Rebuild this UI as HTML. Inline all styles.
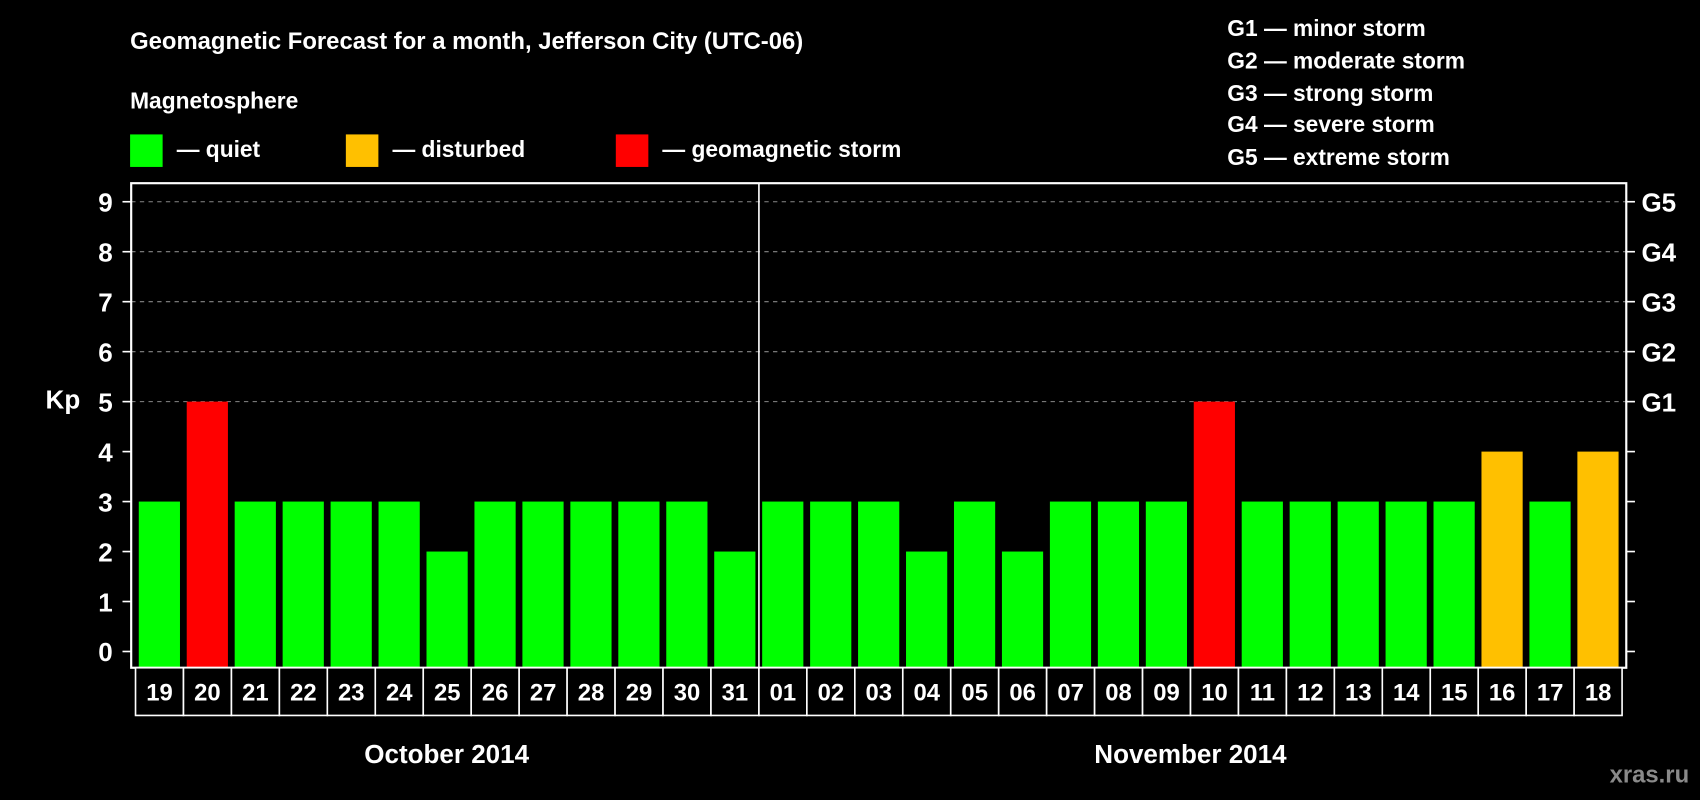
<!DOCTYPE html>
<html><head><meta charset="utf-8"><style>
html,body{margin:0;padding:0;background:#000;width:1700px;height:800px;overflow:hidden}
svg{display:block}
text{font-family:"Liberation Sans",Arial,sans-serif;font-weight:bold;fill:#fff}
</style></head><body>
<svg id="chart" width="1700" height="800" viewBox="0 0 1568 738" preserveAspectRatio="none" xmlns="http://www.w3.org/2000/svg">
<rect x="0" y="0" width="1568" height="738" fill="#000"/>
<text x="120" y="45" font-size="22">Geomagnetic Forecast for a month, Jefferson City (UTC-06)</text>
<text x="120" y="100" font-size="21">Magnetosphere</text>
<rect x="120" y="124" width="30" height="30" fill="#00ff00"/>
<text x="163" y="145" font-size="21">— quiet</text>
<rect x="319" y="124" width="30" height="30" fill="#ffc000"/>
<text x="362" y="145" font-size="21">— disturbed</text>
<rect x="568" y="124" width="30" height="30" fill="#ff0000"/>
<text x="611" y="145" font-size="21">— geomagnetic storm</text>
<g font-size="21">
<text x="1132" y="33">G1 — minor storm</text>
<text x="1132" y="63">G2 — moderate storm</text>
<text x="1132" y="93">G3 — strong storm</text>
<text x="1132" y="122">G4 — severe storm</text>
<text x="1132" y="152">G5 — extreme storm</text>
</g>
<g id="grid"></g>
<g id="bars"></g>
<rect x="121" y="169" width="1379" height="447" fill="none" stroke="#fff" stroke-width="2"/>
<g id="axes"></g>
<g id="days"></g>
<text x="58" y="377" font-size="24" text-anchor="middle">Kp</text>
<text x="412" y="704" font-size="24" text-anchor="middle">October 2014</text>
<text x="1098" y="704" font-size="24" text-anchor="middle">November 2014</text>
<text x="1558" y="722" font-size="22" text-anchor="end" fill="#888" style="fill:#8a8a8a">xras.ru</text>
</svg>
<script>
const days = ["19","20","21","22","23","24","25","26","27","28","29","30","31","01","02","03","04","05","06","07","08","09","10","11","12","13","14","15","16","17","18"];
const kpValues = [3,5,3,3,3,3,2,3,3,3,3,3,2,3,3,3,2,3,2,3,3,3,5,3,3,3,3,3,4,3,4];
const yTicks = [0,1,2,3,4,5,6,7,8,9];
const gLabels = ["G1","G2","G3","G4","G5"];
const NS="http://www.w3.org/2000/svg";
const x0=125, pitch=44.23, barW=38;
function yS(v){return 601-v*46.1;}
function xS(i){return x0+i*pitch;}
function mk(t,a,p){const e=document.createElementNS(NS,t);for(const k in a)e.setAttribute(k,a[k]);p.appendChild(e);return e;}
const grid=document.getElementById('grid'),bars=document.getElementById('bars'),axes=document.getElementById('axes'),dg=document.getElementById('days');
yTicks.forEach(v=>{
  const y=yS(v);
  if(v>=5){const l=mk('line',{x1:121,x2:1500,y1:y,y2:y,stroke:'#888','stroke-dasharray':'4,4','stroke-width':1},grid);
  
  }
  const t1=mk('line',{x1:113,x2:121,y1:y,y2:y,stroke:'#fff','stroke-width':1.5},axes);
  
  
  const t2=mk('line',{x1:1500,x2:1508,y1:y,y2:y,stroke:'#fff','stroke-width':1.5},axes);
  
  
  const tx=mk('text',{x:104,y:y+9,'font-size':24,'text-anchor':'end'},axes);
  tx.textContent=v;
  
  
  if(v>=5){const g=mk('text',{x:1514,y:y+9,'font-size':24},axes);g.textContent=gLabels[v-5];
  
  }
});
const div=mk('line',{x1:(xS(13)+xS(13))/2,x2:xS(13),y1:169,y2:616,stroke:'#fff','stroke-width':1.5},axes);


kpValues.forEach((v,i)=>{
  const c=v>=5?'#ff0000':(v>=4?'#ffc000':'#00ff00');
  const b=mk('rect',{x:xS(i)+3,y:yS(v),width:barW,height:616-yS(v),fill:c},bars);
  
  
});
days.forEach((d,i)=>{
  const r=mk('rect',{x:xS(i),y:616,width:pitch,height:44,fill:'#000',stroke:'#fff','stroke-width':1.5},dg);
  
  
  const t=mk('text',{x:xS(i)+pitch/2,y:646,'font-size':22,'text-anchor':'middle'},dg);
  t.textContent=d;
  
  
});
</script>
</body></html>
